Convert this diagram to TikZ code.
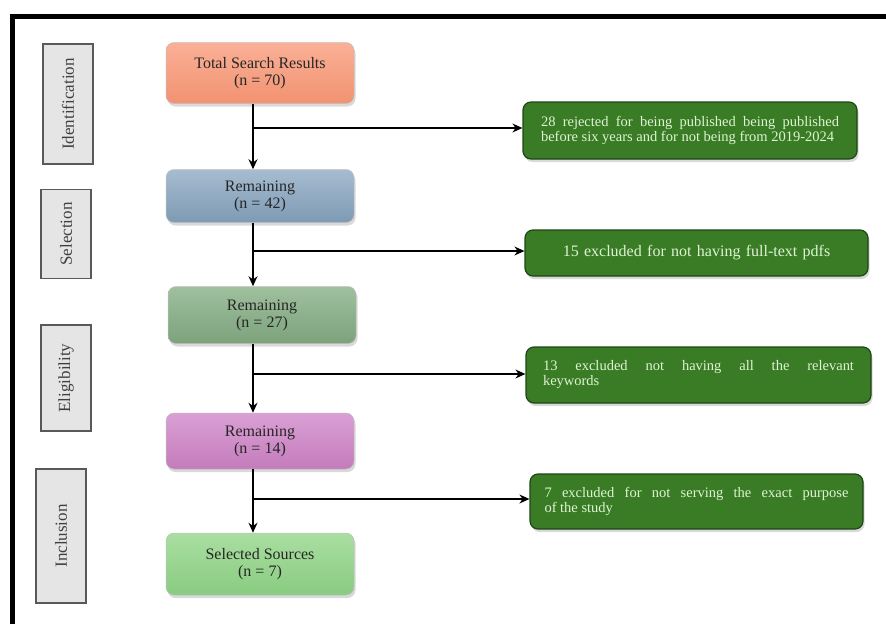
\documentclass[tikz,border=0pt]{standalone}
\usepackage{fontspec}
\setmainfont{Liberation Serif}
\usetikzlibrary{shadows,arrows.meta}

\definecolor{salmontop}{RGB}{250,176,150}
\definecolor{salmonbot}{RGB}{242,146,114}
\definecolor{steeltop}{RGB}{166,188,208}
\definecolor{steelbot}{RGB}{126,154,180}
\definecolor{sagetop}{RGB}{160,192,158}
\definecolor{sagebot}{RGB}{124,162,124}
\definecolor{orchidtop}{RGB}{218,160,212}
\definecolor{orchidbot}{RGB}{196,124,188}
\definecolor{leaftop}{RGB}{170,222,162}
\definecolor{leafbot}{RGB}{136,204,128}
\definecolor{rejfill}{RGB}{58,124,38}
\definecolor{rejdraw}{RGB}{30,70,22}
\definecolor{rejtext}{RGB}{222,244,210}

\tikzset{
  mainbox/.style={rounded corners=8pt, draw=black!25, line width=0.5pt,
    minimum width=188pt, align=center, text=black!85,
    font=\fontsize{16}{17}\selectfont,
    drop shadow={opacity=0.3,shadow xshift=1.5pt,shadow yshift=-3pt}},
  rejbox/.style={rounded corners=8pt, draw=rejdraw, line width=1.2pt,
    fill=rejfill, text=rejtext, align=justify,
    inner xsep=0pt, font=\fontsize{14.5}{15}\selectfont,
    drop shadow={opacity=0.3,shadow xshift=1.5pt,shadow yshift=-3pt}},
  stagebox/.style={rotate=90, draw=black!65, line width=1.5pt, fill=black!10,
    text=black!75, minimum height=50pt, font=\fontsize{17}{17}\selectfont},
  flow/.style={-{Stealth[length=10pt,width=9pt]},line width=1.4pt}
}

\begin{document}
\begin{tikzpicture}
\useasboundingbox (0pt,0pt) rectangle (886pt,-624pt);
\draw[line width=5pt] (12pt,-624pt) -- (12pt,-16pt) -- (886pt,-16pt);

\node[stagebox, minimum width=120pt] (ident) at (68pt,-104pt) {Identification};
\node[stagebox, minimum width=89pt] (select) at (66pt,-234pt) {Selection};
\node[stagebox, minimum width=106pt] (elig) at (66pt,-378pt) {Eligibility};
\node[stagebox, minimum width=134pt] (incl) at (61pt,-536pt) {Inclusion};

\node[mainbox, minimum height=61pt, top color=salmontop, bottom color=salmonbot] (total) at (260pt,-73pt) {Total Search Results\\(n = 70)};
\node[mainbox, minimum height=53pt, top color=steeltop, bottom color=steelbot] (rem42) at (260pt,-196pt) {Remaining\\(n = 42)};
\node[mainbox, minimum height=57pt, top color=sagetop, bottom color=sagebot] (rem27) at (262pt,-315pt) {Remaining\\(n = 27)};
\node[mainbox, minimum height=56pt, top color=orchidtop, bottom color=orchidbot] (rem14) at (260pt,-441pt) {Remaining\\(n = 14)};
\node[mainbox, minimum height=62pt, top color=leaftop, bottom color=leafbot] (chosen) at (260pt,-564pt) {Selected Sources\\(n = 7)};

\node[rejbox, text width=298pt, minimum width=334pt, minimum height=57pt] (rej) at (690pt,-130.5pt) {28 rejected for being published being published\linebreak before six years and for not being from 2019-2024};
\node[rejbox, align=center, text width=343pt, minimum height=46pt, font=\fontsize{16}{17}\selectfont] (nopdf) at (696.5pt,-253pt) {15 excluded for not having full-text pdfs};
\node[rejbox, text width=311pt, minimum width=345pt, minimum height=56pt] (nokey) at (698.5pt,-375pt) {13 excluded not having all the relevant\linebreak keywords};
\node[rejbox, text width=304pt, minimum width=333pt, minimum height=55pt] (nopurp) at (696.5pt,-501.5pt) {7 excluded for not serving the exact purpose\linebreak of the study};

\coordinate (b1) at (253pt,-128pt);
\coordinate (b2) at (253pt,-251pt);
\coordinate (b3) at (253pt,-374pt);
\coordinate (b4) at (253pt,-499pt);

\draw[flow] (total.south -| b1) -- (rem42.north -| b1);
\draw[flow] (b1) -- (b1 -| rej.west);
\draw[flow] (rem42.south -| b2) -- (rem27.north -| b2);
\draw[flow] (b2) -- (b2 -| nopdf.west);
\draw[flow] (rem27.south -| b3) -- (rem14.north -| b3);
\draw[flow] (b3) -- (b3 -| nokey.west);
\draw[flow] (rem14.south -| b4) -- (chosen.north -| b4);
\draw[flow] (b4) -- (b4 -| nopurp.west);
\end{tikzpicture}
\end{document}
